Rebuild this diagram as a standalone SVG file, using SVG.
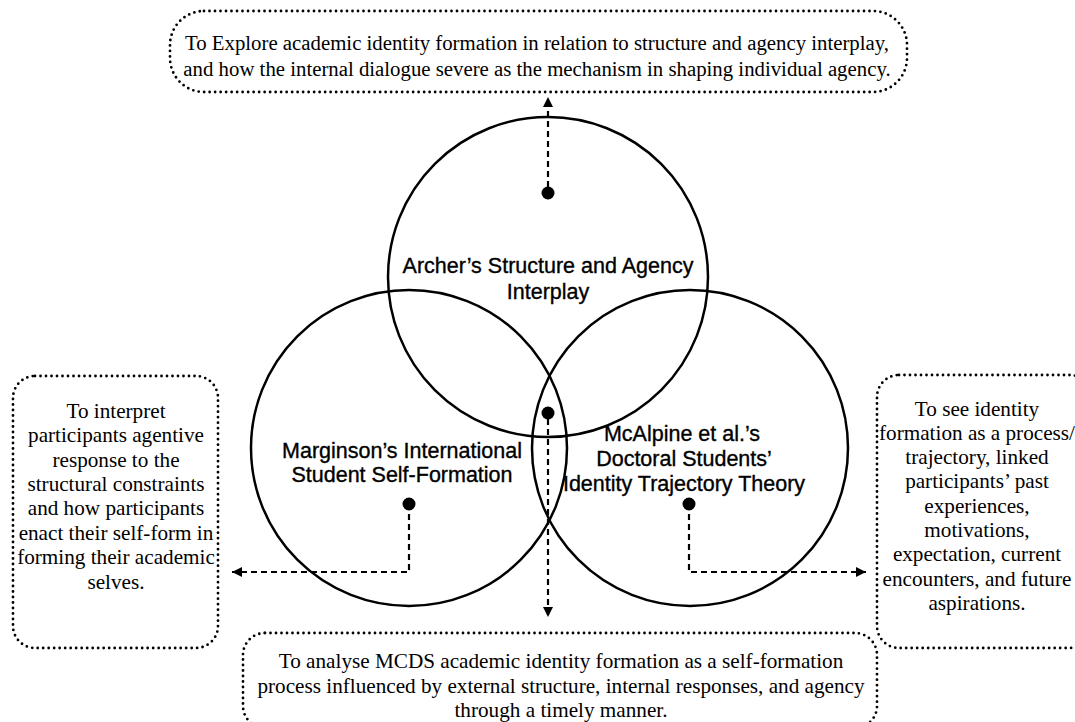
<svg xmlns="http://www.w3.org/2000/svg" width="1075" height="722" viewBox="0 0 1075 722">
<style>
.box{fill:none;stroke:#000;stroke-width:2.8;stroke-dasharray:0 5.5;stroke-linecap:round}
.circ{fill:none;stroke:#000;stroke-width:2.5}
.dot{fill:#000}
.conn{fill:none;stroke:#000;stroke-width:2.2;stroke-dasharray:6 4}
.t{font-family:"Liberation Serif","Times New Roman",serif;fill:#000;text-anchor:middle}
.lab{font-family:"Liberation Sans",Arial,sans-serif;font-size:21.5px;fill:#000;stroke:#000;stroke-width:0.35;text-anchor:middle}
</style>
<defs>
<marker id="ah" markerUnits="userSpaceOnUse" markerWidth="11" markerHeight="11" refX="10" refY="5" orient="auto">
<path d="M0,0 L10,5 L0,10 z" fill="#000"/>
</marker>
</defs>
<rect width="1075" height="722" fill="#fff"/>
<g id="circles">
<g id="archer"><circle class="circ" cx="548" cy="277" r="160"/>
<text class="lab" x="548" y="273">Archer’s Structure and Agency</text>
<text class="lab" x="548" y="299">Interplay</text></g>
<g id="marginson"><circle class="circ" cx="409" cy="448" r="158"/>
<text class="lab" x="402" y="458">Marginson’s International</text>
<text class="lab" x="402" y="482">Student Self-Formation</text></g>
<g id="mcalpine"><circle class="circ" cx="690" cy="448" r="158"/>
<text class="lab" x="682" y="441">McAlpine et al.’s</text>
<text class="lab" x="684" y="466">Doctoral Students’</text>
<text class="lab" x="684" y="491">Identity Trajectory Theory</text></g>
</g>
<g id="top-box">
<rect class="box" x="170" y="11" width="737" height="81" rx="34"/>
<text class="t" font-size="20.8" x="537" y="50">To Explore academic identity formation in relation to structure and agency interplay,</text>
<text class="t" font-size="20.8" x="537" y="76">and how the internal dialogue severe as the mechanism in shaping individual agency.</text>
</g>
<g id="left-box">
<rect class="box" x="13" y="376" width="205" height="272" rx="22"/>
<g class="t" font-size="21.2">
<text x="116" y="418">To interpret</text>
<text x="116" y="442">participants agentive</text>
<text x="116" y="467">response to the</text>
<text x="116" y="491">structural constraints</text>
<text x="116" y="515">and how participants</text>
<text x="116" y="540">enact their self-form in</text>
<text x="116" y="564">forming their academic</text>
<text x="116" y="589">selves.</text>
</g>
</g>
<g id="right-box">
<rect class="box" x="877" y="375" width="215" height="273" rx="22"/>
<g class="t" font-size="21.2">
<text x="977" y="416">To see identity</text>
<text x="977" y="440">formation as a process/</text>
<text x="977" y="464">trajectory, linked</text>
<text x="977" y="488">participants’ past</text>
<text x="977" y="513">experiences,</text>
<text x="977" y="537">motivations,</text>
<text x="977" y="561">expectation, current</text>
<text x="977" y="586">encounters, and future</text>
<text x="977" y="610">aspirations.</text>
</g>
</g>
<g id="bottom-box">
<rect class="box" x="243" y="633" width="634" height="95" rx="22"/>
<g class="t" font-size="21.2">
<text x="561" y="668">To analyse MCDS academic identity formation as a self-formation</text>
<text x="561" y="693">process influenced by external structure, internal responses, and agency</text>
<text x="561" y="717">through a timely manner.</text>
</g>
</g>
<g id="connectors">
<line class="conn" x1="548" y1="187" x2="548" y2="97" marker-end="url(#ah)"/>
<line class="conn" x1="548" y1="419" x2="548" y2="617" marker-end="url(#ah)"/>
<polyline class="conn" points="409,504 409,572 232,572" marker-end="url(#ah)"/>
<polyline class="conn" points="689,504 689,572 866,572" marker-end="url(#ah)"/>
</g>
<g id="dots">
<circle class="dot" cx="548" cy="193" r="6.5"/>
<circle class="dot" cx="548" cy="413" r="6.5"/>
<circle class="dot" cx="409" cy="504" r="6.5"/>
<circle class="dot" cx="689" cy="504" r="6.5"/>
</g>
</svg>
